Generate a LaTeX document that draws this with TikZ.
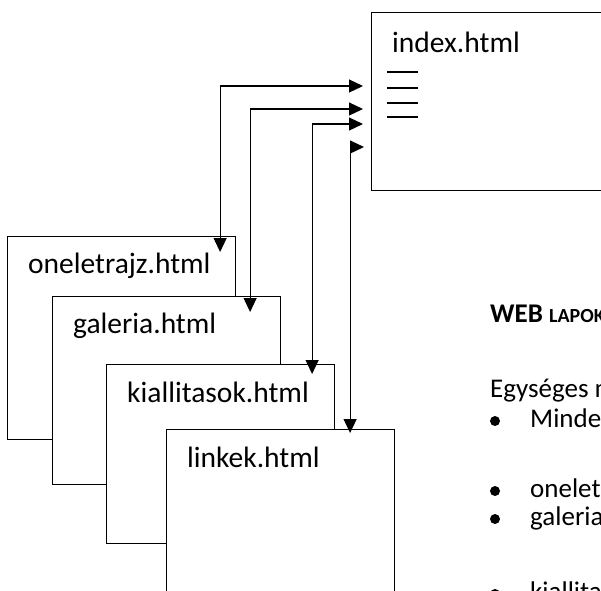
\documentclass[tikz,border=0pt]{standalone}
\usepackage{fontspec}
\setmainfont{Carlito}
\usetikzlibrary{arrows.meta,calc,positioning}

\tikzset{
  page/.style={draw, line width=1.1pt, fill=white, anchor=north west, minimum width=228pt, inner sep=0pt},
  pagename/.style={anchor=base west, inner sep=0pt, font=\fontsize{29.5}{35}\selectfont},
  body/.style={anchor=base west, inner sep=0pt, font=\fontsize{27}{32}\selectfont},
  link/.style={line width=1.2pt, {Triangle[length=14pt,width=13pt]}-{Triangle[length=14pt,width=13pt]}},
}

\begin{document}
\begin{tikzpicture}[x=1pt,y=-1pt]
\useasboundingbox (0,0) rectangle (601,590);
\clip (0,0) rectangle (601,590);

\node[page, minimum width=260pt, minimum height=178pt] (index) at (371,12) {};
\node[pagename] (indexname) at ($(index.north west)+(21,40)$) {index.html};
\foreach \y in {72,88,103,117}
  \draw[line width=1.2pt] (387,\y) -- (418,\y);

\node[page, minimum height=203pt] (onel) at (7,236) {};
\node[pagename] (onelname) at ($(onel.north west)+(21,37)$) {oneletrajz.html};
\node[page, minimum height=188pt] (gal) at (52,296) {};
\node[pagename] (galname) at ($(gal.north west)+(21,37)$) {galeria.html};
\node[page, minimum height=179pt] (kiall) at (106,364) {};
\node[pagename] (kiallname) at ($(kiall.north west)+(21,38)$) {kiallitasok.html};
\node[page, minimum height=200pt] (link) at (166,429) {};
\node[pagename] (linkname) at ($(link.north west)+(21,38)$) {linkek.html};

\coordinate (in1) at ($(index.north west)+(-8,74)$);
\coordinate (in2) at ($(index.north west)+(-8,97)$);
\coordinate (in3) at ($(index.north west)+(-8,112)$);
\coordinate (in4) at ($(index.north west)+(-7,135)$);
\coordinate (out1) at ($(onel.north east)+(-16,16)$);
\coordinate (out2) at ($(gal.north east)+(-31,16)$);
\coordinate (out3) at ($(kiall.north east)+(-23,10)$);
\coordinate (out4) at ($(link.north east)+(-45,4)$);
\draw[link] (in1) -| (out1);
\draw[link] (in2) -| (out2);
\draw[link] (in3) -| (out3);
\draw[link] (in4) -| (out4);

\node[body, font=\fontsize{27}{32}\selectfont\bfseries] (head) at (490,322) {WEB {\fontsize{20}{24}\selectfont LAPOK}};
\node[body] (intro) at (490,397) {Egységes megjelenés};
\foreach \y/\t in {427/Minden, 497/oneletrajz.html, 525/galeria.html, 600/kiallitasok.html} {
  \fill (495,{\y-6}) circle (5pt);
  \node[body] at (530,\y) {\t};
}
\end{tikzpicture}
\end{document}
